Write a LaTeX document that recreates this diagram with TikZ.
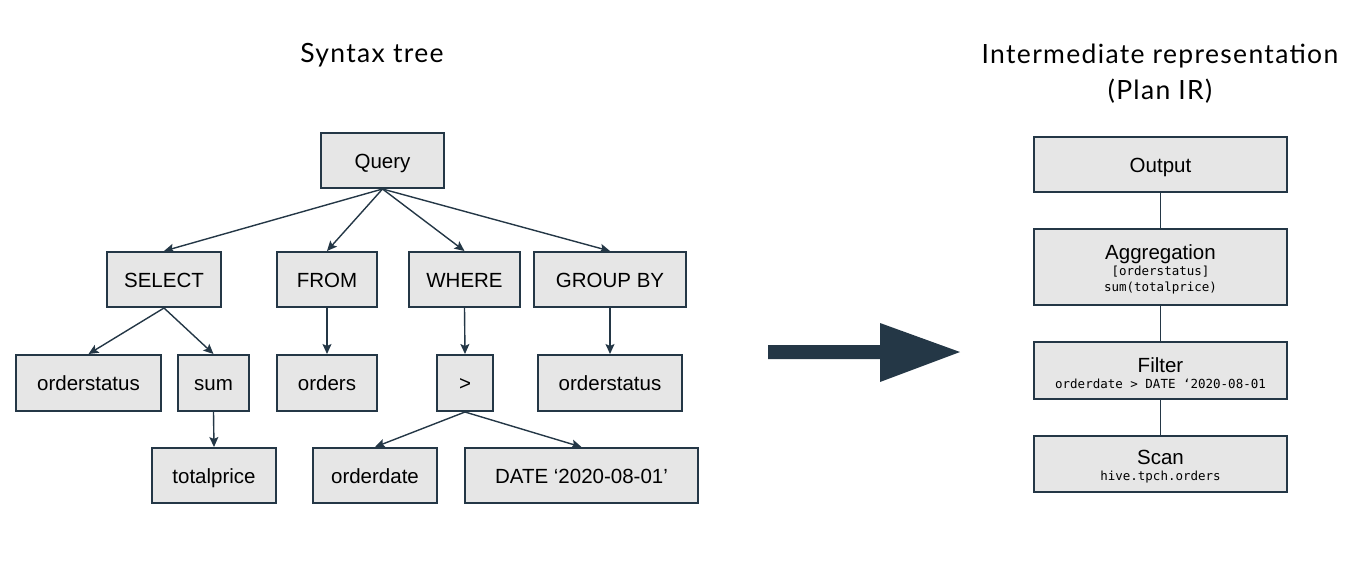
\documentclass[tikz,border=0pt]{standalone}
\usepackage{fontspec}
\setmainfont{Liberation Sans}
\newfontfamily\titlefont[LetterSpace=5]{Lato}
\newfontfamily\monofont{DejaVu Sans Mono}
\usetikzlibrary{arrows.meta}
\definecolor{edge}{HTML}{243746}
\definecolor{boxfill}{HTML}{E6E6E6}
\tikzset{
  basebox/.style={draw=edge, line width=2pt, fill=boxfill, minimum height=55pt, inner sep=0pt,
    font=\fontsize{20.5}{24}\selectfont},
  box/.style={basebox, text height=15pt, text depth=0pt},
  irbox/.style={basebox, align=center, minimum width=253pt, font=\monofont\fontsize{12.5}{16}\selectfont},
  conn/.style={draw=edge, line width=1.4pt, -{Stealth[length=10pt,width=9pt,inset=2pt]}},
  plain/.style={draw=edge, line width=1.4pt},
  title/.style={font=\titlefont\fontsize{26.5}{36}\selectfont, align=center, text=black}
}
\newcommand{\irhead}[1]{{\rmfamily\fontsize{20.5}{20}\selectfont\rule{0pt}{19.5pt}#1}}
\begin{document}
\begin{tikzpicture}[x=1pt,y=-1pt]
\useasboundingbox (0,0) rectangle (1365,562);
% titles
\node[title] (t1) at (372,55.5) {Syntax tree};
\node[title] (t2) at (1160,73.5) {Intermediate representation\\(Plan IR)};
% syntax tree
\node[box, minimum width=123pt] (query) at (382.5,160.5) {Query};
\node[box, minimum width=114pt] (select) at (164,279.5) {SELECT};
\node[box, minimum width=100pt] (from) at (327,279.5) {FROM};
\node[box, minimum width=111pt] (where) at (464.5,279.5) {WHERE};
\node[box, minimum width=152pt] (group) at (610,279.5) {GROUP BY};
\node[box, minimum width=145pt, minimum height=56pt] (os1) at (88.5,383) {orderstatus};
\node[box, minimum width=71pt, minimum height=56pt] (sum) at (213.5,383) {sum};
\node[box, minimum width=100pt, minimum height=56pt] (orders) at (327,383) {orders};
\node[box, minimum width=56pt, minimum height=56pt] (gt) at (465,383) {>};
\node[box, minimum width=144pt, minimum height=56pt] (os2) at (610,383) {orderstatus};
\node[box, minimum width=124pt] (tp) at (214,475.5) {totalprice};
\node[box, minimum width=124pt] (od) at (375,475.5) {orderdate};
\node[box, minimum width=233pt] (date) at (581.5,475.5) {DATE ‘2020-08-01’};
\draw[conn] (query.south) -- (select.north);
\draw[conn] (query.south) -- (from.north);
\draw[conn] (query.south) -- (where.north);
\draw[conn] (query.south) -- (group.north);
\draw[conn] (select.south) -- (os1.north);
\draw[conn] (select.south) -- (sum.north);
\draw[conn] (sum.south) -- (tp.north);
\draw[conn] (from.south) -- (orders.north);
\draw[conn] (where.south) -- (gt.north);
\draw[conn] (group.south) -- (os2.north);
\draw[conn] (gt.south) -- (od.north);
\draw[conn] (gt.south) -- (date.north);
% big arrow
\fill[edge] (768,345) -- (880,345) -- (880,323) -- (960,352) -- (880,382) -- (880,359) -- (768,359) -- cycle;
% IR
\node[box, minimum width=253pt] (out) at (1160.5,164.5) {Output};
\node[irbox, minimum height=76pt] (agg) at (1160.5,267) {\irhead{Aggregation}\\{}[orderstatus]\\sum(totalprice)};
\node[irbox, minimum height=57pt] (filt) at (1160.5,370.5) {\irhead{Filter}\\orderdate > DATE ‘2020-08-01};
\node[irbox, minimum height=56pt] (scan) at (1160.5,464) {\irhead{Scan}\\hive.tpch.orders};
\draw[plain] (out) -- (agg);
\draw[plain] (agg) -- (filt);
\draw[plain] (filt) -- (scan);
\end{tikzpicture}
\end{document}
